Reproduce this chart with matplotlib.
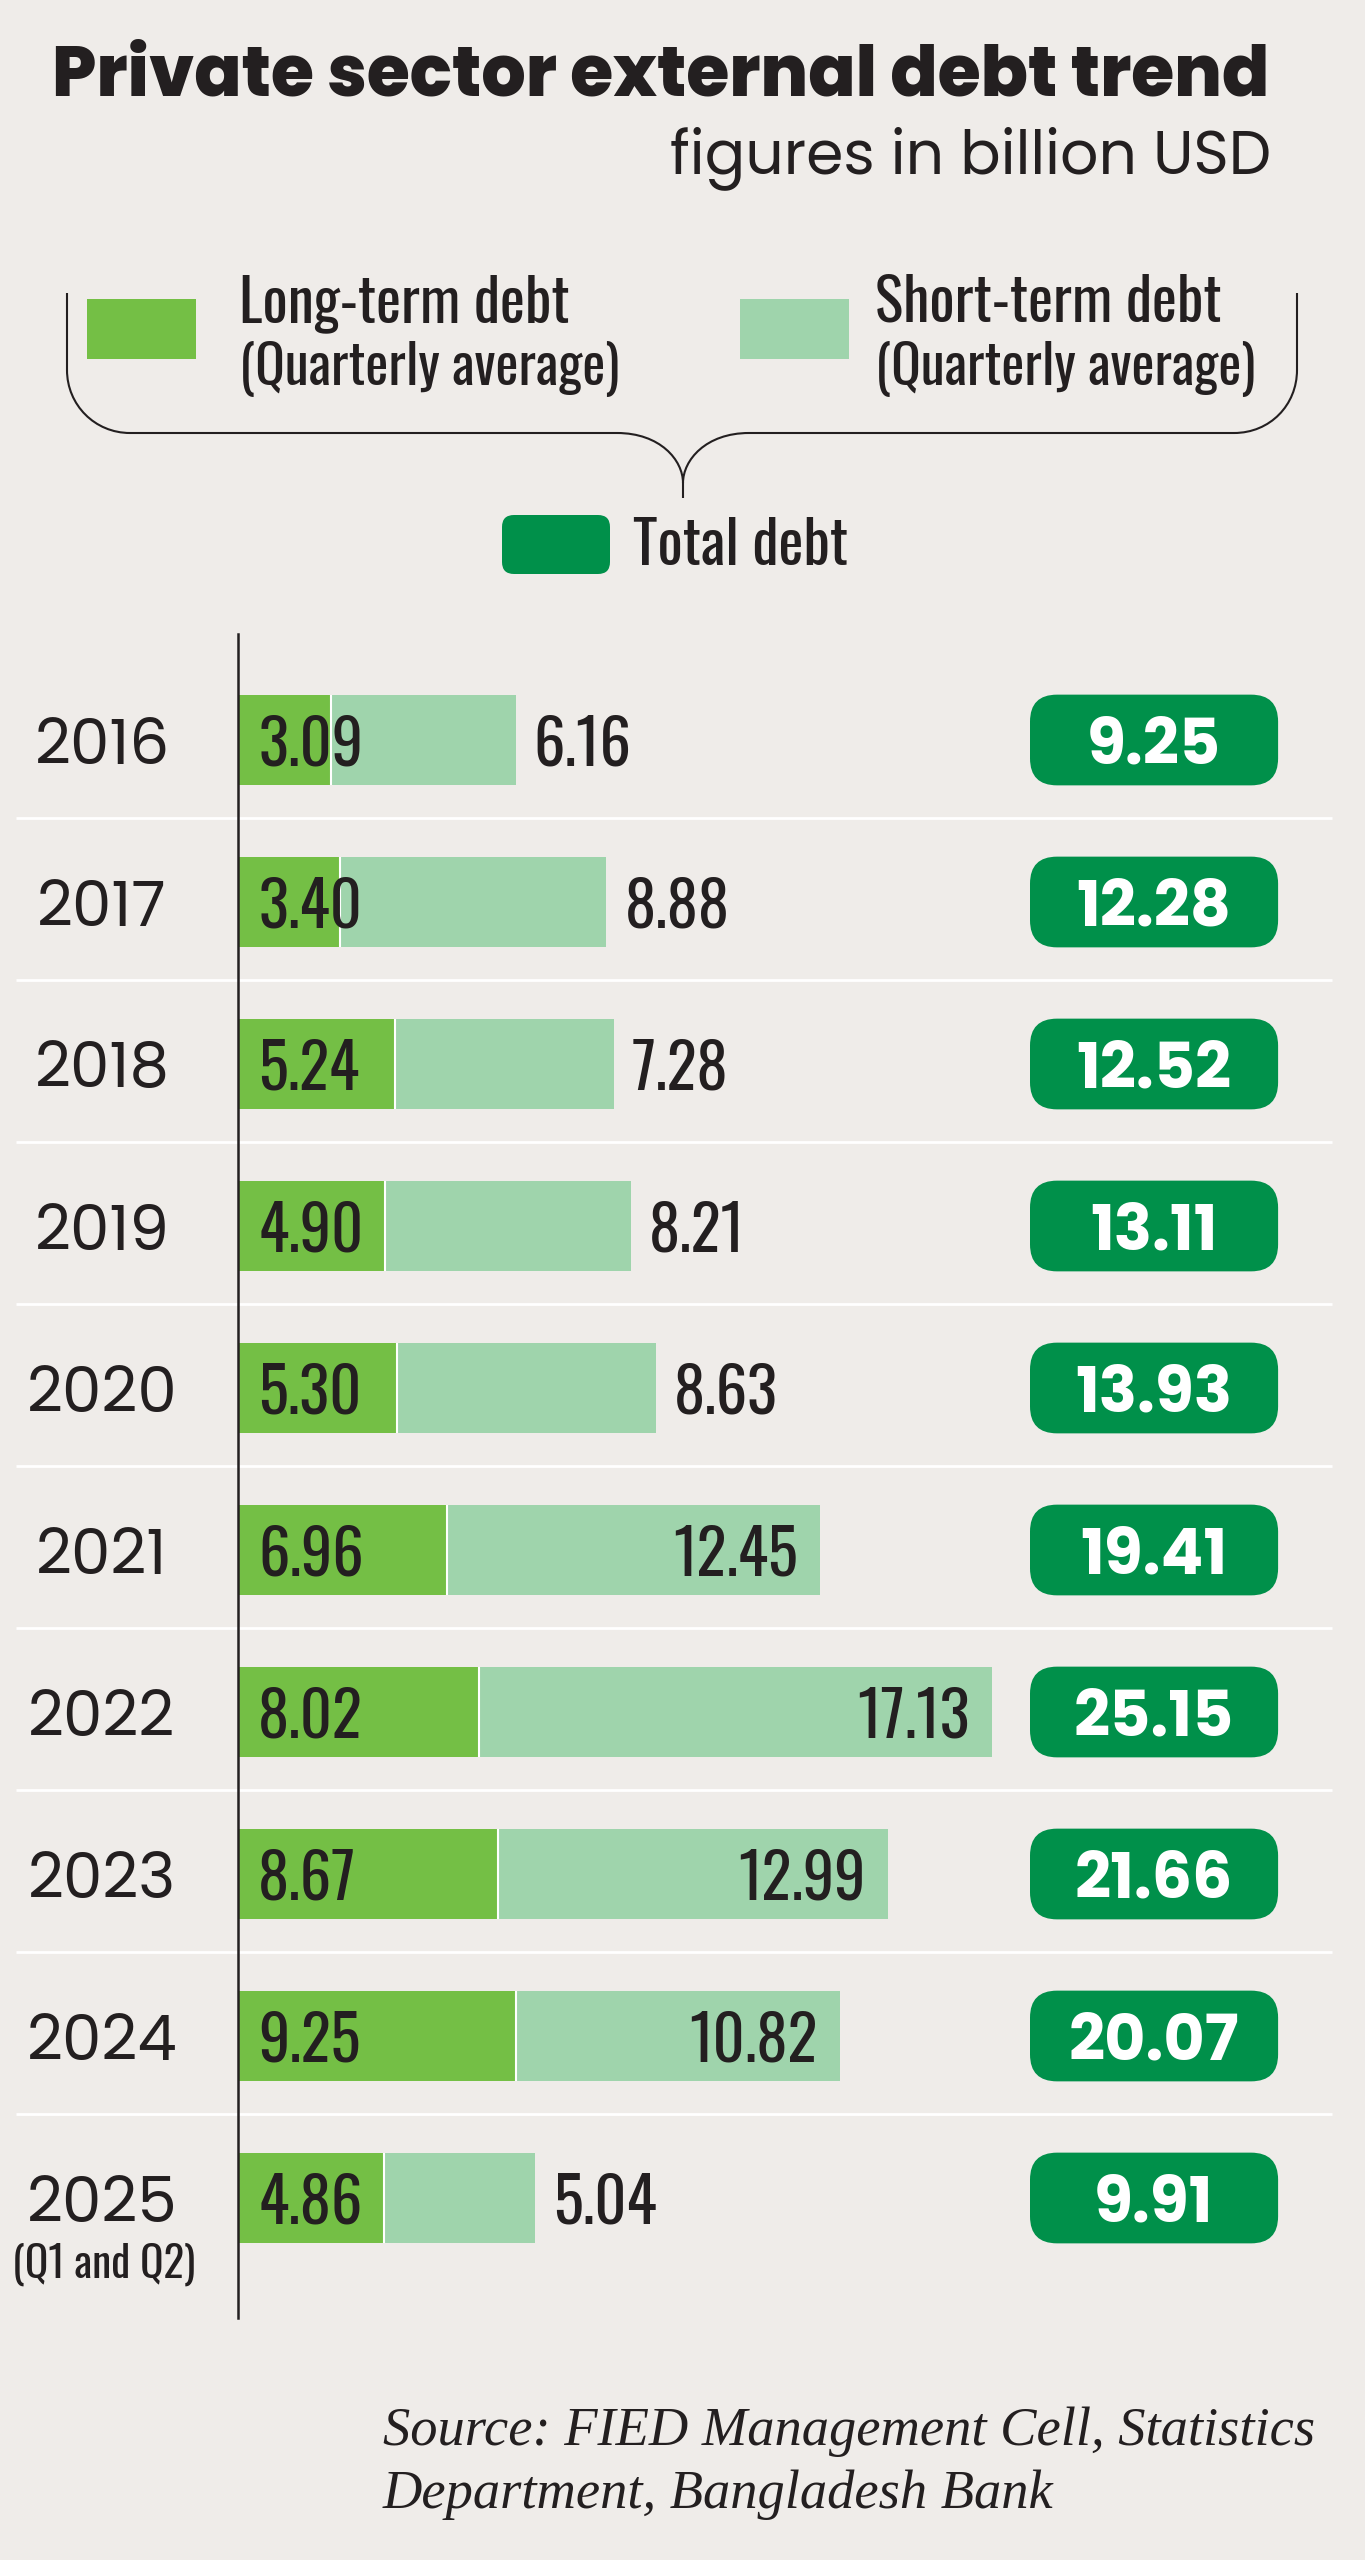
import matplotlib
matplotlib.use("Agg")
import matplotlib.pyplot as plt
import matplotlib.transforms as mtransforms
from matplotlib.patches import FancyBboxPatch, Rectangle, PathPatch
from matplotlib.path import Path

# data (billion USD)
years = ["2016", "2017", "2018", "2019", "2020", "2021", "2022", "2023", "2024", "2025"]
long_term = [3.09, 3.40, 5.24, 4.90, 5.30, 6.96, 8.02, 8.67, 9.25, 4.86]
short_term = [6.16, 8.88, 7.28, 8.21, 8.63, 12.45, 17.13, 12.99, 10.82, 5.04]
total_debt = [9.25, 12.28, 12.52, 13.11, 13.93, 19.41, 25.15, 21.66, 20.07, 9.91]

BG = "#efece9"
LONG = "#74bf45"
SHORT = "#9fd4ac"
TOTAL = "#00904a"
INK = "#231f20"
POP = ["Poppins", "Open Sans", "DejaVu Sans"]
OSW = ["Oswald", "Roboto Condensed", "DejaVu Sans"]
SERIF = ["Liberation Serif", "DejaVu Serif"]

W, H = 1365, 2560
fig = plt.figure(figsize=(W / 100, H / 100), dpi=100, facecolor=BG)
renderer = fig.canvas.get_renderer()


def fit(t, width):
    # scale a text so its drawn width matches the reference (px)
    w = t.get_window_extent(renderer).width
    t.set_fontsize(t.get_fontsize() * width / w)
    return t


def size_for(s, width, **kw):
    probe = fig.text(0, 0, s, fontsize=40, **kw)
    fs = fit(probe, width).get_fontsize()
    probe.remove()
    return fs


# pixel overlay for headings / legend
bg = fig.add_axes([0, 0, 1, 1])
bg.set_xlim(0, W)
bg.set_ylim(H, 0)
bg.axis("off")

# bar axes: 30 px per billion, rows 162 px apart
x0, top, bottom = 238, 634, 2318
px_unit, row0, pitch = 30, 740, 162
ax = fig.add_axes([x0 / W, 1 - bottom / H, (W - x0) / W, (bottom - top) / H])
ax.set_facecolor("none")
ax.set_xlim(0, (W - x0) / px_unit)
ax.set_ylim((bottom - row0) / pitch, (top - row0) / pitch)
for s in ["top", "right", "bottom"]:
    ax.spines[s].set_visible(False)
ax.spines["left"].set_color(INK)
ax.spines["left"].set_linewidth(1.8)
ax.set_xticks([])
ax.set_yticks([])

rows = list(range(len(years)))
bh = 0.56
blend = mtransforms.blended_transform_factory(bg.transData, ax.transData)

ax.hlines([r + 0.48 for r in rows[:-1]], 16, 1332, transform=blend, color="white",
          lw=2, clip_on=False, zorder=0.5)

ax.barh(rows, long_term, height=bh, color=LONG, zorder=1)
ax.barh(rows, short_term, left=long_term, height=bh, color=SHORT, zorder=1)
ax.vlines(long_term, [r - bh / 2 for r in rows], [r + bh / 2 for r in rows],
          color="white", lw=1.5, zorder=1.5)

fs_val = size_for("8.02", 105, family=OSW)
fs_year = size_for("2016", 135, family=POP)
fs_tot = size_for("25.15", 160, family=POP, fontweight="bold")

for r, y, l, s, t in zip(rows, years, long_term, short_term, total_debt):
    ax.text(102, r, y, transform=blend, ha="center", va="center_baseline",
            fontsize=fs_year, family=POP, color=INK)
    ax.text(0.67, r, f"{l:.2f}", ha="left", va="center_baseline", fontsize=fs_val,
            family=OSW, color=INK)
    end = l + s
    if s >= 10:
        ax.text(end - 0.75, r, f"{s:.2f}", ha="right", va="center_baseline",
                fontsize=fs_val, family=OSW, color=INK)
    else:
        ax.text(end + 0.6, r, f"{s:.2f}", ha="left", va="center_baseline",
                fontsize=fs_val, family=OSW, color=INK)
    ax.add_patch(FancyBboxPatch((26.4, r - bh / 2), 8.27, bh,
                                boxstyle="round,pad=0,rounding_size=0.9",
                                mutation_aspect=px_unit / pitch,
                                fc=TOTAL, ec="none", zorder=2))
    ax.text(30.53, r, f"{t:.2f}", ha="center", va="center_baseline", fontsize=fs_tot,
            fontweight="bold", family=POP, color="white", zorder=3)

q = ax.text(104, rows[-1] + 0.41, "(Q1 and Q2)", transform=blend, ha="center",
            va="center", fontsize=29, family=OSW, color=INK)
fit(q, 183)

# title
fit(bg.text(52, 95, "Private sector external debt trend", fontsize=46,
            fontweight=800, family=POP, color=INK, va="baseline"), 1219)
fit(bg.text(1271, 173, "figures in billion USD", fontsize=37, family=POP,
            color=INK, ha="right", va="baseline"), 601)

# legend
bg.add_patch(Rectangle((87, 299), 109, 60, fc=LONG, ec="none"))
bg.add_patch(Rectangle((740, 299), 109, 60, fc=SHORT, ec="none"))
fit(bg.text(239, 322, "Long-term debt", fontsize=40, family=OSW, color=INK,
            va="baseline"), 331)
fit(bg.text(239, 385, "(Quarterly average)", fontsize=40, family=OSW, color=INK,
            va="baseline"), 379)
fit(bg.text(875, 322, "Short-term debt", fontsize=40, family=OSW, color=INK,
            va="baseline"), 347)
fit(bg.text(875, 385, "(Quarterly average)", fontsize=40, family=OSW, color=INK,
            va="baseline"), 379)

verts = [(67, 293), (67, 370),
         (67, 405), (95, 433), (130, 433),
         (617, 433),
         (660, 433), (683, 460), (683, 483),
         (683, 498),
         (683, 483),
         (683, 460), (706, 433), (749, 433),
         (1234, 433),
         (1270, 433), (1297, 405), (1297, 370),
         (1297, 293)]
codes = [Path.MOVETO, Path.LINETO,
         Path.CURVE4, Path.CURVE4, Path.CURVE4,
         Path.LINETO,
         Path.CURVE4, Path.CURVE4, Path.CURVE4,
         Path.LINETO,
         Path.MOVETO,
         Path.CURVE4, Path.CURVE4, Path.CURVE4,
         Path.LINETO,
         Path.CURVE4, Path.CURVE4, Path.CURVE4,
         Path.LINETO]
bg.add_patch(PathPatch(Path(verts, codes), fc="none", ec=INK, lw=1.5))

bg.add_patch(FancyBboxPatch((502, 515), 108, 59, boxstyle="round,pad=0,rounding_size=12",
                            fc=TOTAL, ec="none"))
fit(bg.text(633, 565, "Total debt", fontsize=44, family=OSW, color=INK,
            va="baseline"), 215)

# source
src = fit(bg.text(383, 2445, "Source: FIED Management Cell, Statistics", fontsize=40,
                  family=SERIF, style="italic", color=INK, va="baseline"), 932)
bg.text(383, 2508, "Department, Bangladesh Bank", fontsize=src.get_fontsize(),
        family=SERIF, style="italic", color=INK, va="baseline")

fig.savefig("out.png", dpi=100, facecolor=BG)
